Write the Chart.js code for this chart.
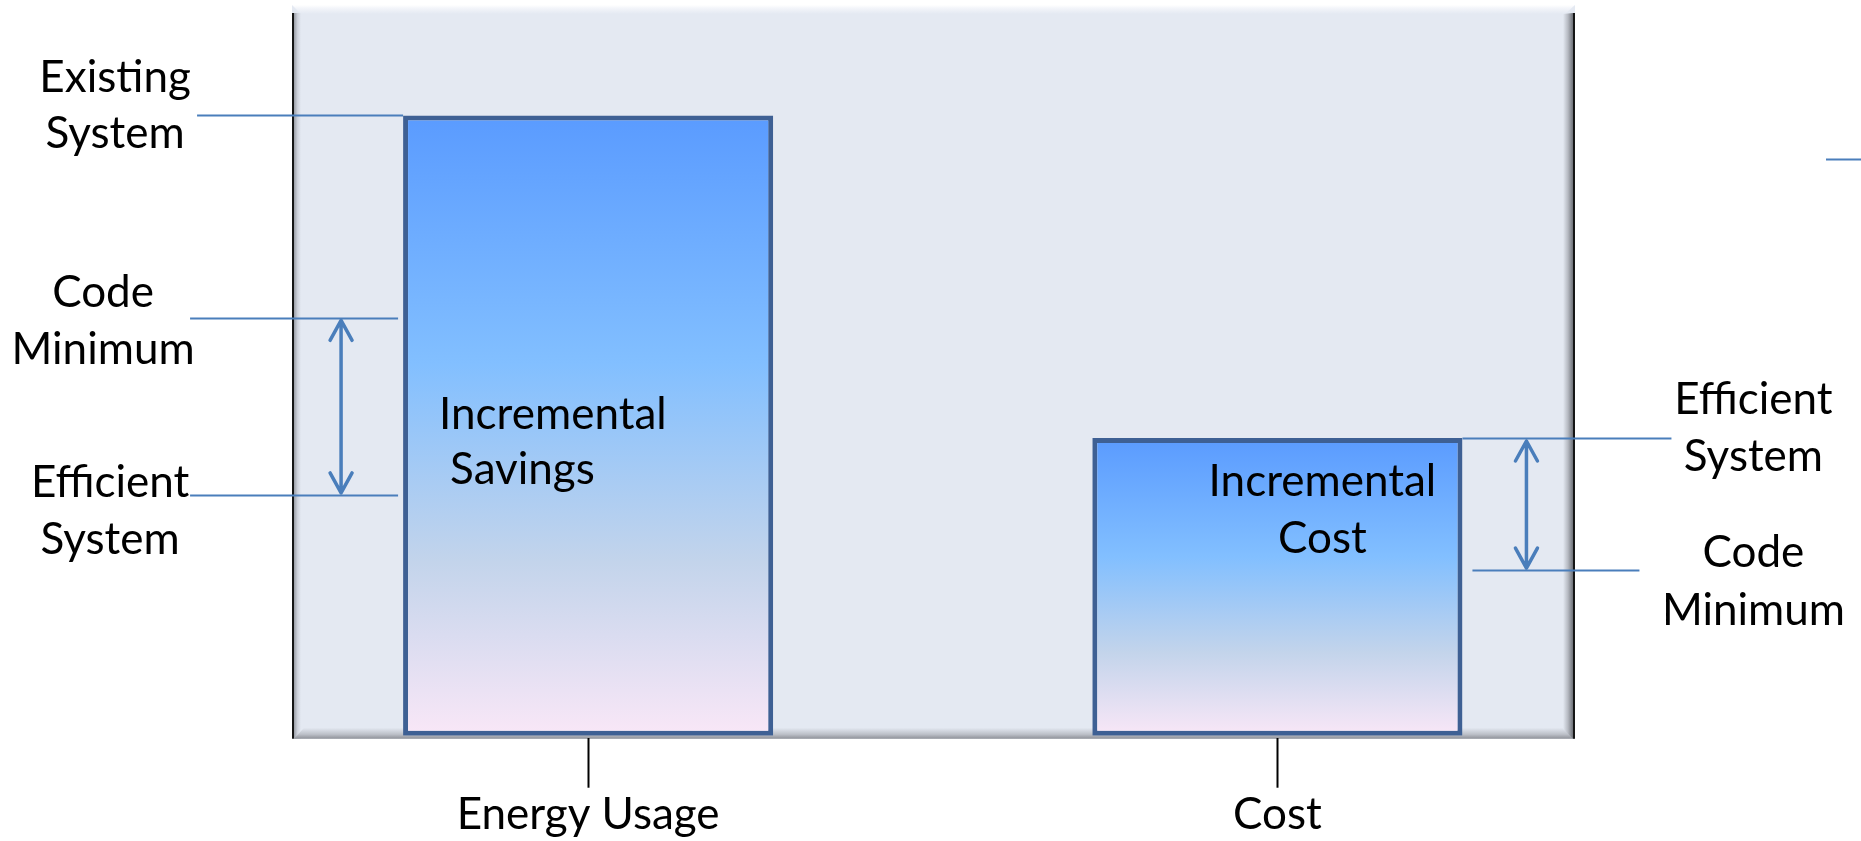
<!DOCTYPE html>
<html>
<head>
<meta charset="utf-8">
<script src="https://cdn.jsdelivr.net/npm/chart.js@4.4.1/dist/chart.umd.min.js"></script>
<style>
  html, body { margin: 0; padding: 0; background: #ffffff; }
  #wrap { width: 1861px; height: 841px; position: relative; }
</style>
</head>
<body>
<div id="wrap"><canvas id="c"></canvas></div>
<script>
// ---------- data ----------
const categories = ['Energy Usage', 'Cost'];
const categoryPositions = [1, 2];
const barValues = [85, 40.8];
const barInnerLabels = [['Incremental', 'Savings'], ['Incremental', 'Cost']];
const energyLevelLabels = [['Existing', 'System'], ['Code', 'Minimum'], ['Efficient', 'System']];
const energyLevelValues = [85, 57.2, 33];
const costLevelLabels = [['Efficient', 'System'], ['Code', 'Minimum']];
const costLevelValues = [40.8, 22.7];
const strayMarkValues = [79];

// ---------- styling / layout ----------
const FONT = '44px Lato, "Open Sans", sans-serif';
const LINE_COLOR = '#4A7EBB';

// per-label placement (offsets from the relevant bar edge, in px)
const energyLabelLayout = [
  { cx: -288, base: [-24, 32], line: [-206, 0] },
  { cx: -300, base: [-12, 45], line: [-213, -5] },
  { cx: -293, base: [1, 58],  line: [-213, -5] }
];
const costLabelLayout = [
  { cx: 291, base: [-25, 32], line: [0, 209] },
  { cx: 291, base: [-4, 54],  line: [10, 177] }
];
const barLabelLayout = [
  { align: 'left', x: [36, 47], base: [314, 369] },
  { align: 'center', x: [45, 45], base: [58, 115] }
];

const panelPlugin = {
  id: 'panel',
  beforeDraw(chart) {
    const { ctx, chartArea: ca } = chart;
    const L = ca.left - 1, R = ca.right, T = ca.top - 1, B = ca.bottom + 3;
    ctx.save();
    ctx.fillStyle = '#E4E9F2';
    ctx.fillRect(L, T, R - L, B - T);
    let g = ctx.createLinearGradient(0, T, 0, T + 9);
    g.addColorStop(0, '#FFFFFF');
    g.addColorStop(0.35, '#F3F5FA');
    g.addColorStop(1, '#E4E9F2');
    ctx.fillStyle = g;
    ctx.beginPath();
    ctx.moveTo(L, T); ctx.lineTo(R, T); ctx.lineTo(R - 10, T + 9); ctx.lineTo(L + 9, T + 9); ctx.closePath();
    ctx.fill();
    g = ctx.createLinearGradient(L + 2, 0, L + 9, 0);
    g.addColorStop(0, '#9A9EA6');
    g.addColorStop(0.5, '#CDD1DA');
    g.addColorStop(1, '#E4E9F2');
    ctx.fillStyle = g;
    ctx.fillRect(L + 2, T + 8, 7, B - T - 8);
    ctx.fillStyle = '#151515';
    ctx.fillRect(L, T + 8, 2, B - T - 8);
    g = ctx.createLinearGradient(0, B - 11, 0, B);
    g.addColorStop(0, '#E4E9F2');
    g.addColorStop(0.6, '#BCC0C8');
    g.addColorStop(1, '#8E9198');
    ctx.fillStyle = g;
    ctx.beginPath();
    ctx.moveTo(L + 2, B); ctx.lineTo(R, B); ctx.lineTo(R - 11, B - 11); ctx.lineTo(L + 12, B - 11); ctx.closePath();
    ctx.fill();
    g = ctx.createLinearGradient(R - 12, 0, R - 2, 0);
    g.addColorStop(0, '#E4E9F2');
    g.addColorStop(0.5, '#B5B9C1');
    g.addColorStop(1, '#6E7178');
    ctx.fillStyle = g;
    ctx.beginPath();
    ctx.moveTo(R - 2, T + 8); ctx.lineTo(R - 2, B); ctx.lineTo(R - 12, B - 10); ctx.lineTo(R - 12, T + 9); ctx.closePath();
    ctx.fill();
    ctx.fillStyle = '#151515';
    ctx.fillRect(R - 2, T + 8, 2, B - T - 8);
    ctx.restore();
  }
};

function drawArrow(ctx, x, y1, y2) {
  ctx.beginPath();
  ctx.moveTo(x, y1); ctx.lineTo(x, y2);
  ctx.moveTo(x - 11, y1 + 20); ctx.lineTo(x, y1); ctx.lineTo(x + 11, y1 + 20);
  ctx.moveTo(x - 11, y2 - 20); ctx.lineTo(x, y2); ctx.lineTo(x + 11, y2 - 20);
  ctx.stroke();
}

const annotationPlugin = {
  id: 'annotations',
  afterDatasetsDraw(chart) {
    const { ctx, chartArea: ca } = chart;
    const ys = chart.scales.y;
    const bars = chart.getDatasetMeta(0).data;
    const b0L = bars[0].x - bars[0].width / 2;
    const b1R = bars[1].x + bars[1].width / 2;
    ctx.save();
    ctx.strokeStyle = LINE_COLOR;
    ctx.lineWidth = 2;
    ctx.font = FONT;
    ctx.fillStyle = '#000';
    ctx.textBaseline = 'alphabetic';
    ctx.textAlign = 'center';

    energyLevelValues.forEach((v, i) => {
      const y = Math.round(ys.getPixelForValue(v)) + 0.5;
      const lay = energyLabelLayout[i];
      ctx.beginPath();
      ctx.moveTo(b0L + lay.line[0], y); ctx.lineTo(b0L + lay.line[1], y);
      ctx.stroke();
      energyLevelLabels[i].forEach((t, k) => ctx.fillText(t, b0L + lay.cx, y + lay.base[k]));
    });
    costLevelValues.forEach((v, i) => {
      const y = Math.round(ys.getPixelForValue(v)) + 0.5;
      const lay = costLabelLayout[i];
      ctx.beginPath();
      ctx.moveTo(b1R + lay.line[0], y); ctx.lineTo(b1R + lay.line[1], y);
      ctx.stroke();
      costLevelLabels[i].forEach((t, k) => ctx.fillText(t, b1R + lay.cx, y + lay.base[k]));
    });
    strayMarkValues.forEach(v => {
      const y = Math.round(ys.getPixelForValue(v)) + 0.5;
      ctx.beginPath();
      ctx.moveTo(ca.right + 251, y); ctx.lineTo(chart.width, y);
      ctx.stroke();
    });

    ctx.lineWidth = 3.5;
    ctx.lineCap = 'round';
    ctx.lineJoin = 'round';
    drawArrow(ctx, b0L - 62, ys.getPixelForValue(energyLevelValues[1]) + 2, ys.getPixelForValue(energyLevelValues[2]) - 2);
    drawArrow(ctx, b1R + 64, ys.getPixelForValue(costLevelValues[0]) + 3, ys.getPixelForValue(costLevelValues[1]) - 2);

    barInnerLabels.forEach((lines, i) => {
      const el = bars[i];
      const left = el.x - el.width / 2;
      const lay = barLabelLayout[i];
      lines.forEach((t, k) => {
        if (lay.align === 'left') {
          ctx.textAlign = 'left';
          ctx.fillText(t, left + lay.x[k], el.y + lay.base[k]);
        } else {
          ctx.textAlign = 'center';
          ctx.fillText(t, el.x + lay.x[k], el.y + lay.base[k]);
        }
      });
    });
    ctx.restore();
  }
};

function barGradient(c) {
  const chart = c.chart;
  if (!chart.chartArea || c.type !== 'data') return '#80BEFF';
  const ys = chart.scales.y;
  const top = ys.getPixelForValue(c.raw.y);
  const bot = ys.getPixelForValue(0);
  const g = chart.ctx.createLinearGradient(0, top, 0, bot);
  g.addColorStop(0, '#5A9BFF');
  g.addColorStop(0.4, '#82BFFF');
  g.addColorStop(0.72, '#C3D4EB');
  g.addColorStop(1, '#F9E7F7');
  return g;
}

new Chart(document.getElementById('c'), {
  type: 'bar',
  data: {
    datasets: [{
      data: categoryPositions.map((x, i) => ({ x: x, y: barValues[i] })),
      backgroundColor: barGradient,
      borderColor: '#3E6094',
      borderWidth: 5,
      borderSkipped: false,
      barPercentage: 0.537,
      categoryPercentage: 1
    }]
  },
  options: {
    responsive: true,
    maintainAspectRatio: false,
    animation: false,
    events: [],
    layout: { padding: { left: 293, right: 286, top: 6, bottom: 0 } },
    plugins: { legend: { display: false }, tooltip: { enabled: false } },
    scales: {
      x: {
        type: 'linear',
        min: 0.5718,
        max: 2.4318,
        offset: false,
        afterBuildTicks: (scale) => { scale.ticks = categoryPositions.map(v => ({ value: v })); },
        ticks: {
          autoSkip: false,
          maxRotation: 0,
          padding: 2,
          color: '#000',
          font: { family: 'Lato, "Open Sans", sans-serif', size: 44, lineHeight: 1.12 },
          callback: (v) => { const i = categoryPositions.indexOf(v); return i >= 0 ? categories[i] : ''; }
        },
        grid: {
          display: true,
          offset: false,
          drawOnChartArea: false,
          drawTicks: true,
          tickLength: 52,
          tickWidth: 2,
          tickColor: '#000'
        },
        border: { display: true, width: 4, color: 'rgba(0,0,0,0)' }
      },
      y: {
        display: false,
        min: 0,
        max: 100
      }
    }
  },
  plugins: [panelPlugin, annotationPlugin]
});
</script>
</body>
</html>
